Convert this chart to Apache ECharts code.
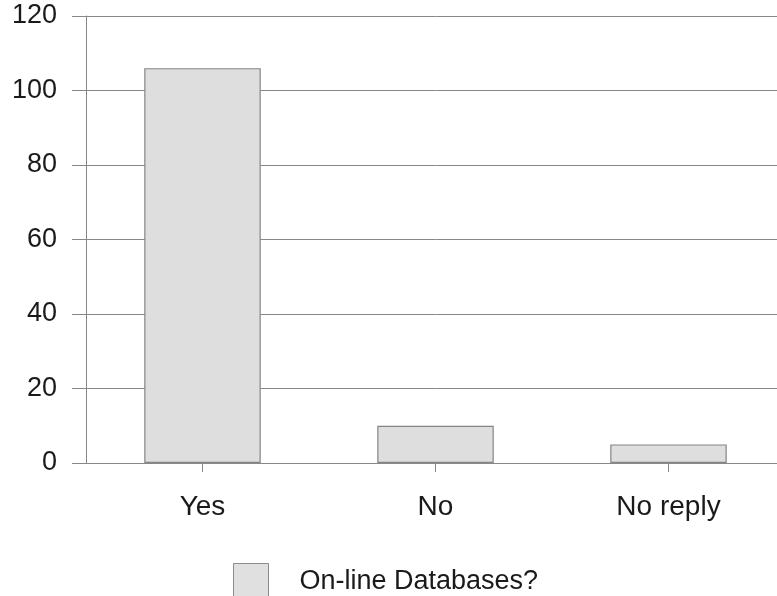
<!DOCTYPE html>
<html>
<head>
<meta charset="utf-8">
<script src="https://cdn.jsdelivr.net/npm/echarts@6/dist/echarts.min.js"></script>
<style>
  html, body { margin: 0; padding: 0; background: #fff; overflow: hidden; }
  /* the plot runs slightly past the right edge of the window */
  #chart { width: 785px; height: 596px; }
</style>
</head>
<body>
<div id="chart"></div>
<script>
// Survey answers
const categories = ['Yes', 'No', 'No reply'];
const responses = [106, 10, 5];
const seriesName = 'On-line Databases?';
const yTicks = { min: 0, max: 120, interval: 20 };

const chart = echarts.init(document.getElementById('chart'), null, { renderer: 'canvas' });
const fontFamily = 'Liberation Sans, Arial, sans-serif';
const lineColor = '#888888';

chart.setOption({
  animation: false,
  backgroundColor: '#ffffff',
  grid: { left: 86, right: 0, top: 16, bottom: 133, containLabel: false },
  legend: {
    data: [seriesName],
    left: 228,
    top: 558,
    itemWidth: 35,
    itemHeight: 37,
    icon: 'rect',
    textStyle: { fontFamily, fontSize: 27, color: '#1a1a1a', padding: [12, 0, 0, 26] },
    itemStyle: { color: '#e0e0e0', borderColor: '#8c8c8c', borderWidth: 1 }
  },
  xAxis: {
    type: 'category',
    data: categories,
    axisLine: { show: true, lineStyle: { color: lineColor, width: 1 } },
    axisTick: { show: true, alignWithLabel: true, length: 9, lineStyle: { color: lineColor } },
    axisLabel: { fontFamily, fontSize: 28, color: '#1a1a1a', margin: 30 }
  },
  yAxis: {
    type: 'value',
    min: yTicks.min,
    max: yTicks.max,
    interval: yTicks.interval,
    axisLine: { show: true, lineStyle: { color: lineColor, width: 1 } },
    axisTick: { show: true, length: 14, lineStyle: { color: lineColor } },
    axisLabel: { fontFamily, fontSize: 27, color: '#1a1a1a', margin: 29 },
    splitLine: { show: true, lineStyle: { color: lineColor, width: 1 } }
  },
  series: [{
    name: seriesName,
    type: 'bar',
    data: responses,
    barWidth: '50%',
    itemStyle: { color: '#dedede', borderColor: '#858585', borderWidth: 1.2 }
  }]
});
</script>
</body>
</html>
